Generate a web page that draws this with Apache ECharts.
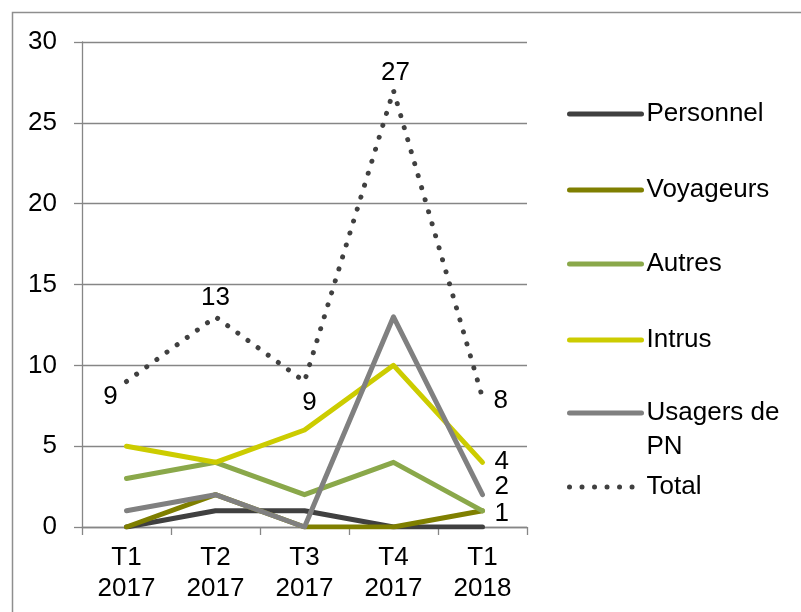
<!DOCTYPE html>
<html>
<head>
<meta charset="utf-8">
<script src="https://cdn.jsdelivr.net/npm/echarts@6/dist/echarts.min.js"></script>
<style>
  html, body { margin: 0; padding: 0; background: #fff; }
  #main { width: 801px; height: 612px; }
</style>
</head>
<body>
<div id="main"></div>
<script>
// données
const categories = ['T1\n2017', 'T2\n2017', 'T3\n2017', 'T4\n2017', 'T1\n2018'];
const personnel = [0, 1, 1, 0, 0];
const voyageurs = [0, 2, 0, 0, 1];
const autres = [3, 4, 2, 4, 1];
const intrus = [5, 4, 6, 10, 4];
const usagers = [1, 2, 0, 13, 2];
const total = [9, 13, 9, 27, 8];
const yTicks = { min: 0, max: 30, interval: 5 };

const FONT = 'Liberation Sans, Arial, sans-serif';
const FS = 26;
const gray = '#868686';
const dotted = [0.01, 12.5];

// étiquettes du total (position par point)
const totalLabels = [
  { position: 'bottom', distance: 2, offset: [-16, 0] },
  { position: 'top', distance: 6, offset: [0, 0] },
  { position: 'bottom', distance: 8, offset: [5, 0] },
  { position: 'top', distance: 5, offset: [2, 0] },
  { position: 'right', distance: 11, offset: [0, 3] }
];

const labelBase = { show: true, color: '#000', fontFamily: FONT, fontSize: FS };

let lastLabel = (values, offset) => values.map((v, i) =>
  i === values.length - 1
    ? { value: v, label: Object.assign({}, labelBase, { position: 'right', distance: 12, offset: offset }) }
    : v
);

let lineSeries = (name, data, color, extra) => Object.assign({
  name: name,
  type: 'line',
  data: data,
  symbol: 'circle',
  symbolSize: 0,
  itemStyle: { color: color },
  lineStyle: { color: color, width: 5, cap: 'round', join: 'round' },
  emphasis: { disabled: true },
  animation: false
}, extra || {});

const series = [
  lineSeries('Personnel', personnel, '#404040'),
  lineSeries('Voyageurs', voyageurs, '#7f7f00'),
  lineSeries('Autres', lastLabel(autres, [0, 3]), '#8aa84a'),
  lineSeries('Intrus', lastLabel(intrus, [0, -1]), '#cccc00'),
  lineSeries('Usagers de PN', lastLabel(usagers, [0, -8]), '#808080'),
  lineSeries('Total', total.map((v, i) => ({ value: v, label: Object.assign({}, labelBase, totalLabels[i]) })), '#404040', {
    lineStyle: { color: '#404040', width: 5, type: dotted, cap: 'round' }
  })
];

// une légende par entrée pour placer chaque ligne comme dans l'original
const legendTops = [99, 175, 249, 325, 362, 472];
const legends = series.map((s, i) => {
  const multi = s.name === 'Usagers de PN';
  const isTotal = s.name === 'Total';
  return {
    data: [{ name: s.name }],
    left: 567,
    top: legendTops[i],
    padding: 0,
    itemWidth: 72,
    itemHeight: 14,
    itemGap: 0,
    selectedMode: false,
    itemStyle: { opacity: 0 },
    lineStyle: isTotal
      ? { width: 5, type: dotted, cap: 'round' }
      : { width: 5, type: 'solid', cap: 'round' },
    // ligne vide en tête pour centrer la 1re ligne sur le trait
    formatter: multi ? '\nUsagers de\nPN' : '{name}',
    textStyle: { color: '#000', fontFamily: FONT, fontSize: FS, lineHeight: multi ? 34 : 30 }
  };
});

const chart = echarts.init(document.getElementById('main'), null, { renderer: 'canvas' });
chart.setOption({
  backgroundColor: '#fff',
  animation: false,
  textStyle: { fontFamily: FONT },
  graphic: [{
    type: 'rect',
    shape: { x: 12.5, y: 12.5, width: 900, height: 800 },
    style: { fill: 'none', stroke: '#8e8e8e', lineWidth: 1.5 },
    silent: true
  }],
  legend: legends,
  grid: { left: 82, right: 274, top: 42, bottom: 85, containLabel: false },
  xAxis: {
    type: 'category',
    data: categories,
    boundaryGap: true,
    axisLine: { lineStyle: { color: gray, width: 1.3 } },
    axisTick: { show: true, length: 8, alignWithLabel: false, lineStyle: { color: gray, width: 1.3 } },
    axisLabel: { color: '#000', fontFamily: FONT, fontSize: FS, lineHeight: 31, margin: 15, interval: 0 },
    splitLine: { show: false }
  },
  yAxis: {
    type: 'value',
    min: yTicks.min,
    max: yTicks.max,
    interval: yTicks.interval,
    axisLine: { show: true, lineStyle: { color: gray, width: 1.3 } },
    axisTick: { show: true, length: 8, lineStyle: { color: gray, width: 1.3 } },
    axisLabel: { color: '#000', fontFamily: FONT, fontSize: FS, margin: 25 },
    splitLine: { show: true, lineStyle: { color: gray, width: 1.3 } }
  },
  series: series
});
</script>
</body>
</html>
